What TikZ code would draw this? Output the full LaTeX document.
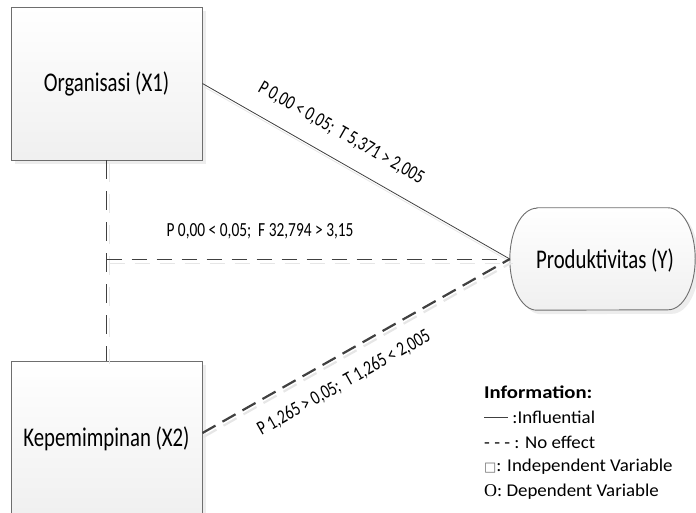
\documentclass[tikz,border=0pt]{standalone}
\usepackage{fontspec}
\setmainfont{Carlito}
\newfontfamily\narrowfont{Carlito}[FakeStretch=0.77]
\newfontfamily\legfont{Carlito}[FakeStretch=1.05]
\newfontfamily\legbold{Carlito}[FakeStretch=1.15,UprightFont=*-Bold]
\newfontfamily\symfont{DejaVu Sans}
\newfontfamily\serifO{Liberation Serif}
\definecolor{edge}{HTML}{6E6E6E}
\definecolor{ink}{HTML}{404040}
\definecolor{shade}{HTML}{E6E6E6}
\begin{document}
\begin{tikzpicture}[x=1pt,y=-1pt,
  varbox/.style={draw=edge, line width=0.9pt, top color=white, bottom color=gray!12,
    minimum width=191pt, inner sep=0pt, font=\narrowfont\fontsize{27}{30}\selectfont},
  ybox/.style={minimum width=185pt, minimum height=102pt, inner sep=0pt,
    font=\narrowfont\fontsize{27}{30}\selectfont},
  solidline/.style={draw=ink, line width=0.8pt},
  thickdash/.style={draw=ink, line width=2.2pt, dash pattern=on 15pt off 8pt},
  hdash/.style={draw=ink, line width=0.9pt, dash pattern=on 15pt off 10pt},
  vdash/.style={draw=ink, line width=0.9pt, dash pattern=on 19pt off 12pt},
  lbl/.style={inner sep=0pt, font=\narrowfont\fontsize{20}{22}\selectfont},
  leg/.style={anchor=west, inner sep=0pt, font=\legfont\fontsize{18}{21}\selectfont},
  shadowcol/.style={draw=shade}
]
\useasboundingbox (0,0) rectangle (696,513);
% shadows of boxes
\fill[shade!70] (15,11) rectangle (206,164);
\fill[shade!70] (15,365) rectangle (206,520);
% variable boxes
\node[varbox, minimum height=153pt] (x1) at (106.5,83.5) {Organisasi (X1)};
\node[varbox, minimum height=155pt] (x2) at (106.5,438.5) {Kepemimpinan (X2)};
% dependent variable
\node[ybox] (y) at (602.5,259) {};
\fill[shade!70, transform canvas={shift={(4,4)}}]
  ([xshift=27pt]y.north west) -- ([xshift=-27pt]y.north east)
  arc[start angle=90,end angle=-90,x radius=27pt,y radius=51pt]
  -- ([xshift=27pt]y.south west)
  arc[start angle=270,end angle=90,x radius=27pt,y radius=51pt] -- cycle;
\draw[draw=edge, line width=0.9pt, top color=white, bottom color=gray!12]
  ([xshift=27pt]y.north west) -- ([xshift=-27pt]y.north east)
  arc[start angle=90,end angle=-90,x radius=27pt,y radius=51pt]
  -- ([xshift=27pt]y.south west)
  arc[start angle=270,end angle=90,x radius=27pt,y radius=51pt] -- cycle;
\node[ybox] (yt) at (605,260) {Produktivitas (Y)};
% connector shadows
\draw[shadowcol, line width=0.8pt, transform canvas={shift={(1,3)}}] (x1.east) -- (y.west);
\draw[shadowcol, line width=2.2pt, dash pattern=on 15pt off 8pt, transform canvas={shift={(1,4)}}] ([yshift=5.5pt]x2.east) -- (y.west);
\coordinate (j) at (x1.south |- y.west);
\draw[shadowcol, line width=0.9pt, dash pattern=on 15pt off 10pt, transform canvas={shift={(3,4)}}] (j) -- (y.west);
\draw[shadowcol, line width=0.9pt, dash pattern=on 19pt off 12pt, transform canvas={shift={(3,3)}}] (x1.south) -- (x2.north);
% connectors
\draw[solidline] (x1.east) -- (y.west);
\draw[thickdash] ([yshift=5.5pt]x2.east) -- (y.west);
\draw[vdash] (x1.south) -- (x2.north);
\draw[hdash] (j) -- (y.west);
% labels
\node[lbl, rotate=-29.7] (l1) at (341,133) {P 0,00 < 0,05;\ \ T 5,371 > 2,005};
\node[lbl] (l2) at (260,231) {P 0,00 < 0,05;\ \ F 32,794 > 3,15};
\node[lbl, rotate=29.5] (l3) at (344,383) {P 1,265 > 0,05;\ \ T 1,265 < 2,005};
% legend
\node[leg] (i0) at (484,392) {{\legbold Information:}};
\node[leg] (i1) at (484,417) {\textcolor{ink}{\rule[0.28em]{24pt}{0.7pt}} :Influential};
\node[leg] (i2) at (484,442) {- - - : No effect};
\node[leg] (i3) at (484,467) {{\symfont\fontsize{13}{15}\selectfont\textcolor{edge}{□}}: Independent Variable};
\node[leg] (i4) at (484,492) {{\serifO O}: Dependent Variable};
\end{tikzpicture}
\end{document}
